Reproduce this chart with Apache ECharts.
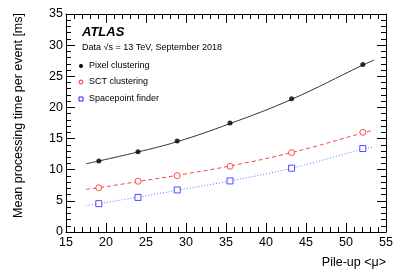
<!DOCTYPE html>
<html><head><meta charset="utf-8">
<script src="https://cdn.jsdelivr.net/npm/echarts@6/dist/echarts.min.js"></script>
<style>html,body{margin:0;padding:0;background:#fff}#c{width:407px;height:276px}</style>
</head><body><div id="c"></div>
<script>
const xTicks = [15,20,25,30,35,40,45,50,55];
const yTicks = [0,5,10,15,20,25,30,35];
const pixelPts = [[19.1,11.4],[24.0,12.9],[28.9,14.6],[35.5,17.5],[43.2,21.4],[52.1,26.9]];
const sctPts = [[19.1,7.1],[24.0,8.15],[28.9,9.05],[35.5,10.55],[43.2,12.75],[52.1,16.0]];
const spPts = [[19.1,4.55],[24.0,5.55],[28.9,6.75],[35.5,8.2],[43.2,10.25],[52.1,13.4]];
const pixelFit = [[17.5,10.95],[19.1,11.4],[24.0,12.85],[28.9,14.5],[35.5,17.4],[43.2,21.3],[52.1,26.8],[53.5,27.6]];
const sctFit = [[17.5,6.85],[19.1,7.1],[24.0,8.1],[28.9,9.1],[35.5,10.6],[43.2,12.75],[52.1,15.9],[53.5,16.4]];
const spFit = [[17.5,4.25],[19.1,4.55],[24.0,5.6],[28.9,6.7],[35.5,8.2],[43.2,10.25],[52.1,13.3],[53.5,13.7]];
const legendNames = ['Pixel clustering','SCT clustering','Spacepoint finder'];

const FONT = 'Liberation Sans, Arial, Helvetica, sans-serif';
const chart = echarts.init(document.getElementById('c'), null, {renderer:'canvas'});
function xa(pos, showLabel){
  return {type:'value', position:pos, min:xTicks[0], max:xTicks[xTicks.length-1], interval:5,
    axisLine:{show:true, onZero:false, lineStyle:{color:'#000', width:1}},
    axisTick:{show:true, inside:true, length:9, lineStyle:{color:'#000'}},
    minorTick:{show:true, splitNumber:5, length:5, lineStyle:{color:'#000'}},
    splitLine:{show:false},
    axisLabel:{show:showLabel, color:'#000', fontSize:12.5, fontFamily:FONT, margin:4}};
}
function ya(pos, showLabel){
  return {type:'value', position:pos, min:yTicks[0], max:yTicks[yTicks.length-1], interval:5,
    axisLine:{show:true, onZero:false, lineStyle:{color:'#000', width:1}},
    axisTick:{show:true, inside:true, length:9, lineStyle:{color:'#000'}},
    minorTick:{show:true, splitNumber:5, length:5, lineStyle:{color:'#000'}},
    splitLine:{show:false},
    axisLabel:{show:showLabel, color:'#000', fontSize:12.5, fontFamily:FONT, margin:3}};
}
const legX = 81, legY = [66, 82, 99];
chart.setOption({
  animation:false,
  grid:{left:66, right:21, top:14, bottom:44},
  xAxis:[xa('bottom', true), xa('top', false)],
  yAxis:[ya('left', true), ya('right', false)],
  series:[
    {type:'line', data:pixelFit, smooth:0.4, showSymbol:false, lineStyle:{color:'#333', width:1}, z:2},
    {type:'line', data:sctFit, smooth:0.4, showSymbol:false, lineStyle:{color:'#ff4040', width:1, type:[4,3]}, z:2},
    {type:'line', data:spFit, smooth:0.4, showSymbol:false, lineStyle:{color:'#7070ff', width:1, type:[1,2]}, z:2},
    {type:'scatter', name:legendNames[0], data:pixelPts, symbol:'circle', symbolSize:5, itemStyle:{color:'#000'}, z:3},
    {type:'scatter', name:legendNames[1], data:sctPts, symbol:'circle', symbolSize:6, itemStyle:{color:'#fff', borderColor:'#ff2020', borderWidth:1}, z:3},
    {type:'scatter', name:legendNames[2], data:spPts, symbol:'rect', symbolSize:6, itemStyle:{color:'#fff', borderColor:'#2020ff', borderWidth:1}, z:3}
  ],
  graphic:[
    {type:'text', left:82, top:26, style:{text:'ATLAS', font:'italic bold 13px '+FONT, fill:'#000'}},
    {type:'text', left:82, top:43, style:{text:'Data \u221As = 13 TeV, September 2018', font:'9px '+FONT, fill:'#000'}},
    {type:'circle', shape:{cx:legX, cy:legY[0], r:2}, style:{fill:'#000'}},
    {type:'circle', shape:{cx:legX, cy:legY[1], r:2}, style:{fill:'#fff', stroke:'#ff2020', lineWidth:1}},
    {type:'rect', shape:{x:legX-2, y:legY[2]-2, width:4, height:4}, style:{fill:'#fff', stroke:'#2020ff', lineWidth:1}},
    {type:'text', x:89, y:legY[0], style:{text:legendNames[0], font:'9px '+FONT, fill:'#000', verticalAlign:'middle'}},
    {type:'text', x:89, y:legY[1], style:{text:legendNames[1], font:'9px '+FONT, fill:'#000', verticalAlign:'middle'}},
    {type:'text', x:89, y:legY[2], style:{text:legendNames[2], font:'9px '+FONT, fill:'#000', verticalAlign:'middle'}},
    {type:'text', x:386, y:263, style:{text:'Pile-up <\u03BC>', font:'12.5px '+FONT, fill:'#000', align:'right', verticalAlign:'middle'}},
    {type:'text', x:19, y:13, rotation:Math.PI/2, style:{text:'Mean processing time per event [ms]', font:'12.5px '+FONT, fill:'#000', align:'right', verticalAlign:'middle'}}
  ]
});
</script></body></html>
